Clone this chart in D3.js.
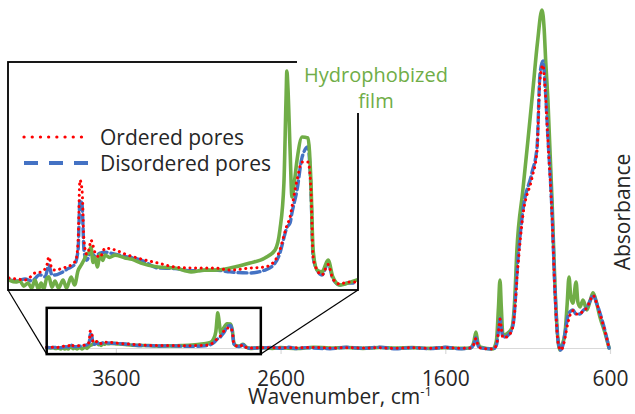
<!DOCTYPE html>
<html lang="en">

<head>
    <meta charset="UTF-8">
    <title>FTIR spectra</title>
    <style>
        * {
            margin: 0;
            padding: 0;
        }

        html,
        body {
            overflow: hidden;
            background: #fff;
        }

        text {
            font-family: "Open Sans", "Noto Sans", sans-serif;
        }
    </style>
</head>

<body>
    <div id="chart"></div>
    <script src="https://cdn.jsdelivr.net/npm/d3@7"></script>
    <script>
        // spectra: [wavenumber, absorbance]
        const hydrophobized = [
            [4020, 0.0015], [3995, 0.0005], [3979, 0.0010], [3965, -0.0015], [3949, 0.0000], [3935, -0.0025],
            [3923, 0.0015], [3910, -0.0030], [3900, 0.0000], [3890, -0.0030], [3880, 0.0020], [3871, 0.0030],
            [3860, -0.0020], [3848, 0.0010], [3835, -0.0025], [3818, 0.0015], [3805, -0.0025], [3788, 0.0029],
            [3775, -0.0010], [3762, 0.0060], [3750, 0.0088], [3740, 0.0112], [3730, 0.0140], [3720, 0.0150],
            [3714, 0.0175], [3706, 0.0100], [3699, 0.0125], [3690, 0.0078], [3680, 0.0140], [3670, 0.0110],
            [3661, 0.0136], [3645, 0.0125], [3624, 0.0136], [3587, 0.0122], [3560, 0.0115], [3527, 0.0097],
            [3463, 0.0078], [3400, 0.0073], [3340, 0.0054], [3290, 0.0063], [3250, 0.0063], [3194, 0.0073],
            [3120, 0.0097], [3064, 0.0122], [3026, 0.0161], [3008, 0.0258], [2993, 0.0487], [2985, 0.0900],
            [2982, 0.1032], [2978, 0.0950], [2970, 0.0648], [2963, 0.0419], [2955, 0.0480], [2944, 0.0599],
            [2925, 0.0711], [2903, 0.0706], [2892, 0.0487], [2884, 0.0161], [2869, 0.0063], [2851, 0.0054],
            [2828, 0.0112], [2810, 0.0029], [2784, -0.0010], [2754, 0.0000], [2720, 0.0015],
            [2650, -0.001], [2600, 0.001], [2500, -0.0015], [2400, 0.002], [2300, 0.0], [2200, 0.0015],
            [2100, -0.001], [2000, 0.0015], [1900, 0.0], [1800, 0.001], [1700, -0.001], [1600, 0.001],
            [1500, -0.001], [1450, 0.0], [1428, 0.015], [1414, 0.047], [1402, 0.015], [1385, 0.002],
            [1311, -0.003], [1290, 0.02], [1277, 0.12], [1268, 0.2], [1260, 0.12], [1250, 0.038],
            [1225, 0.042], [1195, 0.06], [1180, 0.13], [1165, 0.29], [1130, 0.46], [1098, 0.612],
            [1068, 0.76], [1040, 0.9], [1013, 0.994], [1000, 0.94], [990, 0.84], [977, 0.73], [952, 0.435],
            [934, 0.18], [915, 0.02], [905, -0.006], [890, 0.01], [873, 0.044], [860, 0.13], [849, 0.209],
            [838, 0.15], [825, 0.132], [806, 0.194], [795, 0.135], [782, 0.121], [764, 0.141], [740, 0.112],
            [720, 0.14], [703, 0.162], [680, 0.13], [661, 0.091], [630, 0.044], [606, 0.0]
        ]

        const disordered = [
            [4020, 0.0015], [3990, 0.0010], [3960, 0.0020], [3935, 0.0010], [3905, 0.0040], [3885, 0.0030],
            [3871, 0.0088], [3860, 0.0040], [3848, 0.0039], [3825, 0.0050], [3800, 0.0070], [3775, 0.0090],
            [3762, 0.0160], [3755, 0.0404], [3747, 0.0380], [3740, 0.0161], [3730, 0.0110], [3714, 0.0150],
            [3699, 0.0130], [3680, 0.0146], [3661, 0.0150], [3624, 0.0140], [3587, 0.0130], [3527, 0.0112],
            [3463, 0.0073], [3400, 0.0070], [3340, 0.0060], [3250, 0.0063], [3194, 0.0054], [3120, 0.0049],
            [3064, 0.0063], [3026, 0.0097], [3008, 0.0146], [2993, 0.0220], [2982, 0.0270], [2970, 0.0292],
            [2963, 0.0341], [2944, 0.0453], [2925, 0.0613], [2903, 0.0662], [2892, 0.0453], [2884, 0.0127],
            [2869, 0.0063], [2851, 0.0039], [2828, 0.0097], [2810, 0.0020], [2784, -0.0010], [2754, 0.0000],
            [2720, 0.0000],
            [2650, 0.002], [2600, -0.001], [2550, 0.002], [2500, -0.002], [2450, 0.001], [2400, 0.0],
            [2300, -0.002], [2200, 0.002], [2100, -0.001], [2000, 0.002], [1900, -0.002], [1800, 0.001],
            [1700, -0.002], [1600, 0.002], [1520, -0.002], [1450, 0.0], [1428, 0.01], [1414, 0.03],
            [1400, 0.006], [1385, 0.0], [1311, -0.003], [1290, 0.008], [1275, 0.06], [1268, 0.088],
            [1260, 0.06], [1250, 0.032], [1225, 0.035], [1200, 0.05], [1185, 0.08], [1159, 0.259],
            [1130, 0.4], [1074, 0.515], [1043, 0.591], [1025, 0.806], [1007, 0.844], [995, 0.78],
            [977, 0.62], [952, 0.40], [934, 0.17], [915, 0.02], [900, -0.006], [885, 0.01], [873, 0.044],
            [855, 0.095], [840, 0.108], [825, 0.112], [806, 0.1], [782, 0.1], [764, 0.11], [740, 0.12],
            [720, 0.14], [703, 0.156], [680, 0.13], [661, 0.103], [630, 0.05], [606, 0.0]
        ]

        const ordered = [
            [4020, 0.0024], [3990, 0.0020], [3960, 0.0015], [3949, 0.0020], [3923, 0.0049], [3900, 0.0054],
            [3880, 0.0080], [3871, 0.0127], [3860, 0.0070], [3848, 0.0063], [3818, 0.0073], [3788, 0.0088],
            [3770, 0.0112], [3762, 0.0200], [3755, 0.0501], [3747, 0.0450], [3740, 0.0209], [3730, 0.0140],
            [3720, 0.0170], [3714, 0.0209], [3699, 0.0150], [3680, 0.0125], [3661, 0.0170], [3624, 0.0161],
            [3587, 0.0141], [3527, 0.0117], [3463, 0.0097], [3400, 0.0078], [3340, 0.0073], [3250, 0.0073],
            [3194, 0.0063], [3120, 0.0073], [3064, 0.0078], [3026, 0.0110], [3008, 0.0161], [2993, 0.0230],
            [2982, 0.0280], [2970, 0.0321], [2963, 0.0370], [2944, 0.0501], [2925, 0.0589], [2903, 0.0589],
            [2892, 0.0453], [2884, 0.0127], [2869, 0.0063], [2851, 0.0039], [2828, 0.0090], [2810, 0.0020],
            [2784, -0.0005], [2754, 0.0005], [2720, 0.0005],
            [2600, 0.001], [2500, 0.0005], [2400, 0.0015], [2300, 0.0], [2200, 0.001], [2100, 0.0],
            [2000, 0.001], [1900, -0.001], [1800, 0.001], [1700, -0.001], [1600, 0.001], [1500, -0.001],
            [1450, 0.0], [1428, 0.01], [1414, 0.028], [1400, 0.006], [1385, 0.0], [1311, -0.003],
            [1290, 0.008], [1275, 0.058], [1268, 0.085], [1260, 0.058], [1250, 0.03], [1225, 0.033],
            [1200, 0.048], [1185, 0.075], [1159, 0.24], [1130, 0.385], [1074, 0.5], [1043, 0.58],
            [1025, 0.79], [1007, 0.832], [995, 0.77], [977, 0.61], [952, 0.39], [934, 0.16], [915, 0.015],
            [900, -0.006], [885, 0.005], [873, 0.03], [855, 0.075], [840, 0.1], [825, 0.11], [806, 0.1],
            [782, 0.1], [764, 0.11], [740, 0.118], [720, 0.14], [703, 0.155], [680, 0.13], [661, 0.1],
            [630, 0.048], [606, 0.0]
        ]

        const tickValues = [3600, 2600, 1600, 600]
        const legendLabels = ['Ordered pores', 'Disordered pores']
        const zoomWn = [4020, 2720]

        function drawChart() {
            const width = 635
            const height = 414
            const svg = d3.select('#chart')
                .append('svg')
                .attr('width', width)
                .attr('height', height)
                .style('background', '#fff')

            const x = d3.scaleLinear().domain([4000, 600]).range([50, 610])
            const y = d3.scaleLinear().domain([0, 1]).range([348, 8])

            const ix = d3.scaleLinear().domain(zoomWn).range([9, 357])
            const iy = d3.scaleLinear().domain([-0.0034, 0.1076]).range([290, 62])

            const series = [
                { name: 'hydro', data: hydrophobized, color: '#70AD47', w: 3.6, dash: null },
                { name: 'dis', data: disordered, color: '#4472C4', w: 3.4, dash: '9,4' },
                { name: 'ord', data: ordered, color: '#FF0000', w: 3, dash: '0.1,5.5' }
            ]

            // x axis
            const axis = svg.append('g')
                .attr('transform', `translate(0,${y(0)})`)
                .call(d3.axisBottom(x).tickValues(tickValues).tickFormat(d3.format('d'))
                    .tickSize(6).tickSizeOuter(0).tickPadding(17))
            axis.select('.domain').attr('stroke', '#D9D9D9').attr('stroke-width', 1.2)
            axis.selectAll('.tick line').attr('stroke', '#D9D9D9').attr('stroke-width', 1.2)
            axis.selectAll('.tick text')
                .attr('fill', '#262626')
                .style('font-size', '21px')
                .style('font-family', '"Open Sans", sans-serif')

            const xTitle = svg.append('text')
                .attr('x', 340)
                .attr('y', 404)
                .attr('text-anchor', 'middle')
                .attr('fill', '#262626')
                .style('font-size', '21px')
            xTitle.append('tspan').text('Wavenumber, cm')
            xTitle.append('tspan').attr('dy', -8).style('font-size', '13px').text('-1')

            svg.append('text')
                .attr('transform', 'translate(630,212) rotate(-90)')
                .attr('text-anchor', 'middle')
                .attr('fill', '#262626')
                .style('font-size', '21px')
                .text('Absorbance')

            // main curves
            const mainLine = d3.line()
                .x(d => x(d[0]))
                .y(d => y(d[1]))
                .curve(d3.curveMonotoneX)

            series.forEach(s => {
                svg.append('path')
                    .attr('d', mainLine(s.data))
                    .attr('fill', 'none')
                    .attr('stroke', s.color)
                    .attr('stroke-width', s.w)
                    .attr('stroke-linecap', 'round')
                    .attr('stroke-linejoin', 'round')
                    .attr('stroke-dasharray', s.dash)
            })

            // zoom box on the main axis + connectors to the inset
            const bx0 = x(zoomWn[0]), bx1 = x(zoomWn[1])
            const by0 = y(0.118), by1 = y(-0.018)
            svg.append('rect')
                .attr('x', bx0).attr('y', by0)
                .attr('width', bx1 - bx0).attr('height', by1 - by0)
                .attr('fill', 'none').attr('stroke', '#000').attr('stroke-width', 2.5)
            svg.append('line')
                .attr('x1', ix.range()[0] - 1).attr('y1', iy.range()[0])
                .attr('x2', bx0).attr('y2', by1)
                .attr('stroke', '#000').attr('stroke-width', 1.2)
            svg.append('line')
                .attr('x1', ix.range()[1] + 1).attr('y1', iy.range()[0])
                .attr('x2', bx1).attr('y2', by1)
                .attr('stroke', '#000').attr('stroke-width', 1.2)

            // inset
            const inset = svg.append('g')
            inset.append('rect')
                .attr('x', 8).attr('y', 62)
                .attr('width', 350).attr('height', 228)
                .attr('fill', '#fff').attr('stroke', '#000').attr('stroke-width', 1.8)

            svg.append('clipPath').attr('id', 'insetClip')
                .append('rect').attr('x', 9).attr('y', 63).attr('width', 348).attr('height', 226)

            const insetLine = d3.line()
                .x(d => ix(d[0]))
                .y(d => iy(d[1]))
                .curve(d3.curveMonotoneX)

            const insetOrder = [series[1], series[0], series[2]]
            insetOrder.forEach(s => {
                inset.append('path')
                    .attr('clip-path', 'url(#insetClip)')
                    .attr('d', insetLine(s.data.filter(d => d[0] >= zoomWn[1] - 30)))
                    .attr('fill', 'none')
                    .attr('stroke', s.color)
                    .attr('stroke-width', s.w)
                    .attr('stroke-linecap', 'round')
                    .attr('stroke-linejoin', 'round')
                    .attr('stroke-dasharray', s.dash)
            })

            // legend
            const legend = inset.append('g')
            legendLabels.forEach((label, i) => {
                const s = i === 0 ? series[2] : series[1]
                const ly = 137 + i * 26
                legend.append('line')
                    .attr('x1', 24).attr('x2', 88)
                    .attr('y1', ly).attr('y2', ly)
                    .attr('stroke', s.color)
                    .attr('stroke-width', i === 0 ? 3.2 : 4)
                    .attr('stroke-linecap', i === 0 ? 'round' : 'butt')
                    .attr('stroke-dasharray', i === 0 ? '0.1,8.1' : '14,11')
                legend.append('text')
                    .attr('x', 100).attr('y', ly + 8)
                    .attr('fill', '#262626')
                    .style('font-size', '21px')
                    .text(label)
            })

            // label box for the hydrophobized film
            svg.append('rect')
                .attr('x', 297).attr('y', 56)
                .attr('width', 162).attr('height', 57)
                .attr('fill', '#fff')
            const lab = svg.append('text')
                .attr('text-anchor', 'middle')
                .attr('fill', '#70AD47')
                .style('font-size', '20px')
            lab.append('tspan').attr('x', 376).attr('y', 82).text('Hydrophobized')
            lab.append('tspan').attr('x', 376).attr('y', 108).text('film')
        }

        drawChart()
    </script>
</body>

</html>
